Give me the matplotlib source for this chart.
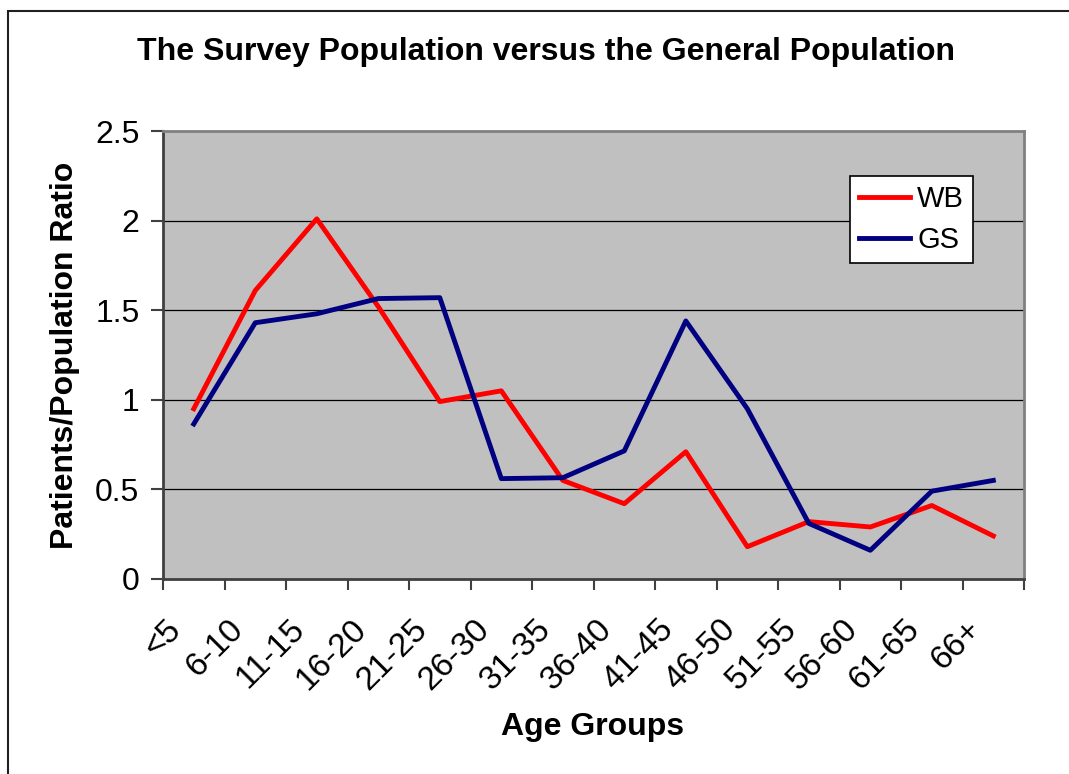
import matplotlib.pyplot as plt
from matplotlib.patches import Rectangle
from matplotlib.transforms import ScaledTranslation, blended_transform_factory

age_groups = ["<5", "6-10", "11-15", "16-20", "21-25", "26-30", "31-35",
              "36-40", "41-45", "46-50", "51-55", "56-60", "61-65", "66+"]
wb = [0.95, 1.61, 2.01, 1.52, 0.99, 1.05, 0.55, 0.42, 0.71, 0.18, 0.32, 0.29, 0.41, 0.24]
gs = [0.865, 1.43, 1.48, 1.565, 1.57, 0.56, 0.565, 0.715, 1.44, 0.95, 0.31, 0.16, 0.49, 0.55]

plt.rcParams["font.family"] = ["Liberation Sans", "DejaVu Sans"]

fig = plt.figure(figsize=(10.69, 7.74), dpi=100)
ax = fig.add_axes([0.1525, 0.252, 0.8055, 0.5787])

# chart frame around the whole figure
fig.patches.append(Rectangle((8 / 1069, -0.1), 1.2, 0.1 + 1 - 11 / 774,
                             transform=fig.transFigure, fill=False,
                             edgecolor="#202020", linewidth=1.5, zorder=0))

x = list(range(len(age_groups)))
ax.set_facecolor("#C0C0C0")
ax.plot(x, wb, color="#FF0000", lw=3.5, label="WB", zorder=3)
ax.plot(x, gs, color="#000080", lw=3.5, label="GS", zorder=3)

ax.set_xlim(-0.5, len(age_groups) - 0.5)
ax.set_ylim(0, 2.5)
ax.set_yticks([0, 0.5, 1, 1.5, 2, 2.5])
ax.set_yticklabels(["0", "0.5", "1", "1.5", "2", "2.5"])
for v in [0.5, 1, 1.5, 2]:
    ax.axhline(v, color="black", lw=0.9, zorder=1)

# category boundaries get the tick marks, labels sit between them
ax.set_xticks([i - 0.5 for i in range(len(age_groups) + 1)])
ax.set_xticklabels([])
ax.tick_params(axis="x", length=8, width=1.5, color="#404040")
ax.tick_params(axis="y", length=9, width=1.5, color="#404040", labelsize=23, pad=8)

lab_trans = blended_transform_factory(ax.transData, ax.transAxes) + \
    ScaledTranslation(-17 / 100, -46 / 100, fig.dpi_scale_trans)
for i, name in zip(x, age_groups):
    ax.text(i, 0, name, transform=lab_trans, rotation=45, ha="right",
            va="center", rotation_mode="anchor", fontsize=24, clip_on=False)

for side in ["left", "bottom"]:
    ax.spines[side].set_color("#404040")
    ax.spines[side].set_linewidth(2)
for side in ["top", "right"]:
    ax.spines[side].set_color("#808080")
    ax.spines[side].set_linewidth(2)

leg = ax.legend(loc="upper left", bbox_to_anchor=(0.798, 0.8996), fontsize=21,
                frameon=True, fancybox=False, handlelength=1.75,
                borderpad=0.3, labelspacing=0.45, handletextpad=0.25,
                borderaxespad=0)
leg.get_frame().set_edgecolor("black")
leg.get_frame().set_linewidth(1.2)
leg.get_frame().set_facecolor("white")
leg.get_frame().set_alpha(1)

fig.text(0.511, 0.933, "The Survey Population versus the General Population",
         ha="center", va="center", fontsize=23, fontweight="bold")
fig.text(0.061, 0.541, "Patients/Population Ratio", rotation=90,
         ha="center", va="center", fontsize=23, fontweight="bold")
fig.text(0.554, 0.061, "Age Groups", ha="center", va="center",
         fontsize=23, fontweight="bold")

fig.savefig("out.png", dpi=100)
